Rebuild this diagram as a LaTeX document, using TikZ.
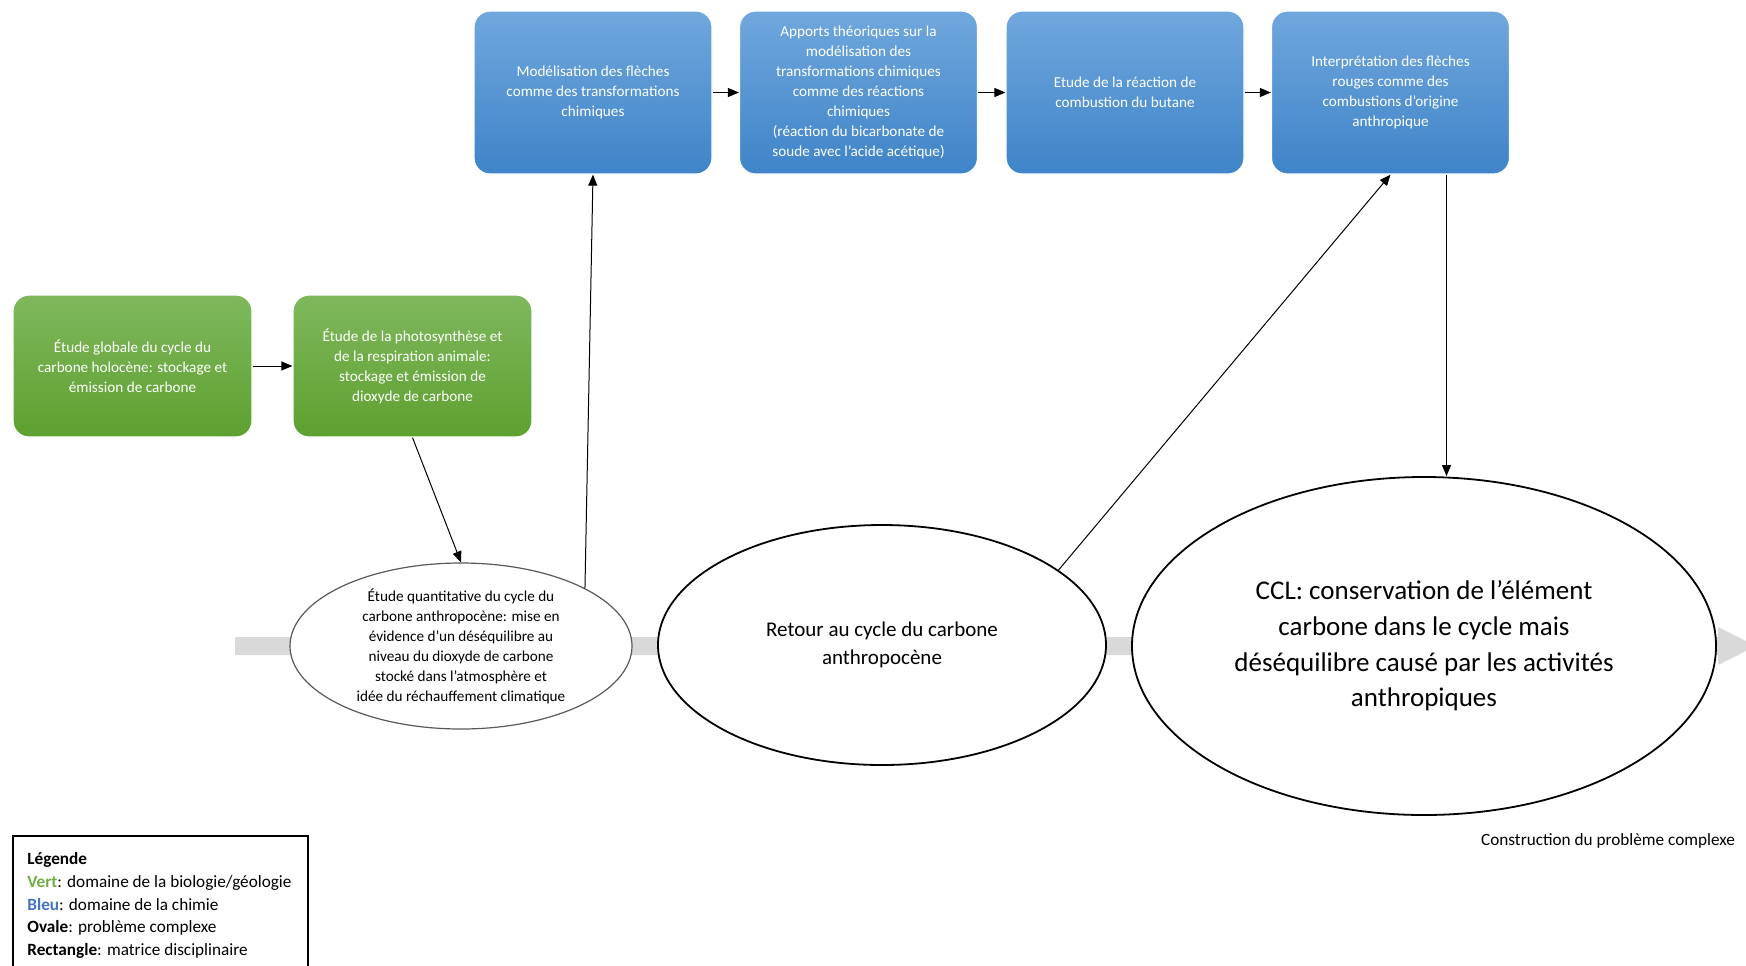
\documentclass[tikz,border=0pt]{standalone}
\usepackage{fontspec}
\setmainfont{Carlito}
\usetikzlibrary{arrows.meta,shapes.geometric,positioning}
\definecolor{blueTop}{RGB}{112,167,221}
\definecolor{blueBot}{RGB}{62,132,200}
\definecolor{greenTop}{RGB}{126,184,92}
\definecolor{greenBot}{RGB}{94,160,48}
\definecolor{barGray}{RGB}{217,217,217}
\definecolor{vertLeg}{RGB}{112,173,71}
\definecolor{bleuLeg}{RGB}{68,114,196}

\begin{document}
\begin{tikzpicture}[x=0.5pt, y=-0.5pt, >={Triangle[length=5.5pt,width=4.5pt]},
             every node/.style={font=\fontsize{7.6}{10}\selectfont},
             chim/.style={rectangle, rounded corners=8pt, draw=white, line width=0.6pt,
                          top color=blueTop, bottom color=blueBot, text=white,
                          align=center, minimum width=119pt, minimum height=81.5pt},
             bio/.style={rectangle, rounded corners=8pt, draw=white, line width=0.6pt,
                         top color=greenTop, bottom color=greenBot, text=white,
                         align=center, minimum width=119.5pt, minimum height=71pt},
             oval/.style={ellipse, draw, fill=white, align=center, inner sep=0pt,
                          line width=0.9pt},
             link/.style={->, line width=0.5pt},
             legend/.style={anchor=north west, align=left, inner sep=0pt,
                            font=\fontsize{8.6}{11.4}\selectfont}]
\useasboundingbox (0,0) rectangle (1746,965);

%% grey arrow of the complex problem
\fill[barGray] (235,637) -- (1718,637) -- (1718,627) -- (1756,646)
  -- (1718,665) -- (1718,655) -- (235,655) -- cycle;

%% chemistry (blue)
\node[chim] (b1) at (593,92.5)    {Modélisation des flèches\\comme des transformations\\chimiques};
\node[chim] (b2) at (858.5,92.5)  {Apports théoriques sur la\\modélisation des\\transformations chimiques\\comme des réactions\\chimiques\\(réaction du bicarbonate de\\soude avec l’acide acétique)};
\node[chim] (b3) at (1125,92.5)   {Etude de la réaction de\\combustion du butane};
\node[chim] (b4) at (1390.5,92.5) {Interprétation des flèches\\rouges comme des\\combustions d’origine\\anthropique};

%% biology / geology (green)
\node[bio] (g1) at (132.5,366) {Étude globale du cycle du\\carbone holocène: stockage et\\émission de carbone};
\node[bio] (g2) at (412.5,366) {Étude de la photosynthèse et\\de la respiration animale:\\stockage et émission de\\dioxyde de carbone};

%% complex problem (ovals)
\node[oval, draw=black!65, line width=0.6pt, minimum width=171pt, minimum height=83pt]
  (e1) at (461,646) {Étude quantitative du cycle du\\carbone anthropocène: mise en\\évidence d’un déséquilibre au\\niveau du dioxyde de carbone\\stocké dans l’atmosphère et\\idée du réchauffement climatique};
\node[oval, minimum width=224pt, minimum height=120pt, font=\fontsize{10.5}{13.9}\selectfont]
  (e2) at (882,645) {Retour au cycle du carbone\\anthropocène};
\node[oval, minimum width=292pt, minimum height=169pt, font=\fontsize{13.5}{17.8}\selectfont]
  (e3) at (1424,646) {CCL: conservation de l’élément\\carbone dans le cycle mais\\déséquilibre causé par les activités\\anthropiques};

%% connectors
\draw[link] (g1) -- (g2);
\draw[link] (g2.south) -- (e1.north);
\draw[link] (e1.25) -- (b1.south);
\draw[link] (b1) -- (b2);
\draw[link] (b2) -- (b3);
\draw[link] (b3) -- (b4);
\draw[link] (e2.23) -- (b4.south);
\coordinate (b4out) at ([xshift=28pt]b4.south);
\draw[link] (b4out) -- (b4out |- e3.north);

\node[anchor=east, font=\fontsize{8.6}{10}\selectfont] (constr) at (1742,841)
  {Construction du problème complexe};

%% legend
\draw[line width=1pt] (13,836) rectangle (308,990);
\node[legend] (leg) at (27,852) {\textbf{Légende}\\
  \textbf{\textcolor{vertLeg}{Vert}}: domaine de la biologie/géologie\\
  \textbf{\textcolor{bleuLeg}{Bleu}}: domaine de la chimie\\
  \textbf{Ovale}: problème complexe\\
  \textbf{Rectangle}: matrice disciplinaire};
\end{tikzpicture}
\end{document}
